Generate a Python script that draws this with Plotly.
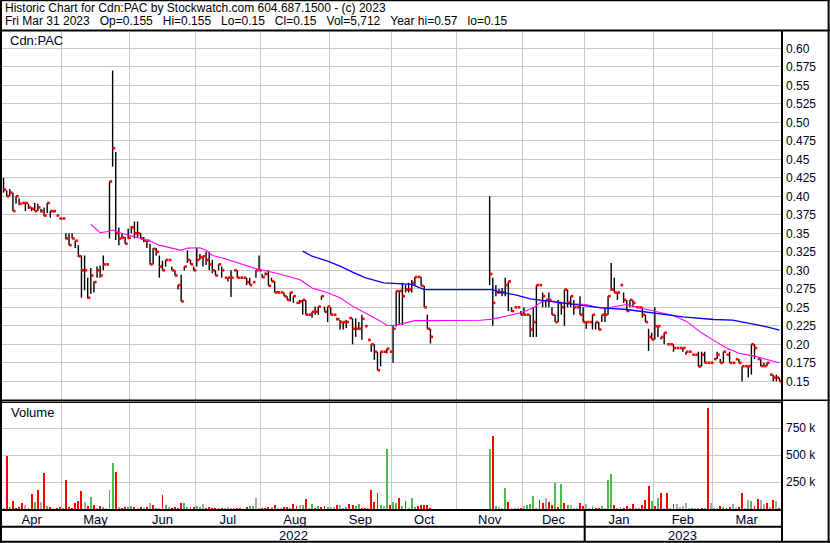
import plotly.graph_objects as go

# ---------------- data ----------------
month_labels = ["Apr", "May", "Jun", "Jul", "Aug", "Sep", "Oct", "Nov", "Dec", "Jan", "Feb", "Mar"]
month_days = [19, 22, 21, 21, 22, 20, 21, 21, 20, 22, 19, 22]   # trading days per month
year_labels = ["2022", "2023"]
year_start_month = [0, 9]

N = None
high = [
    .425, .408, .41, .405, .40, .397, .391, .391, .39, .385, .391, .39, .383, .385, .391, .38, .38, .374, .37,
    .37, .35, .35, .35, .34, .334, .32, .32, .29, .303, .285, .305, .306, .32, .308, .42, .57, .46, .358, .35, .345, .356,
    .36, .366, .366, .35, .345, .34, .336, .33, .33, .32, .313, .314, .314, .305, .30, .28, .294, .305, .327, .314, .305,
    .33, .322, .319, .325, .325, .314, .30, .308, .305, .29, .29, .30, .30, .30, .29, .29, .29, .29, .284, .30, .32,
    .295, .297, .30, .29, .285, .272, .27, .27, .265, .27, .265, .256, .26, .26, .26, .24, .244, .251, .251, .265, .251, .251,
    .25, .24, .236, .233, .23, .233, .236, .235, .235, .23, .24, .2245, .206, .20, .20, .19, .19, .19, .194, .19,
    .225, .272, .272, .283, .28, .283, .287, .291, .291, .291, .279, .24, .221, N, N, N, N, N, N, N, N,
    N, N, N, N, N, N, N, N, N, N, .40, .29, .28, .275, .276, .29, .285, .25, .25, .25, .245,
    .25, .24, .24, .25, .28, .28, .27, .26, .27, .25, .24, .26, .256, .274, .274, .265, .26, .25, .265, .25,
    .23, .23, .24, .23, .23, .24, .25, .265, .31, .29, .27, .28, .27, .26, .26, .26, .25, .25, .25, .24, .221, .2156,
    .25, .2246, .21, .2156, .20, .20, .20, .195, .195, .195, .19, .19, .186, .186, .19, .19, .19, .175, .175,
    .18, .19, .18, .19, .186, .19, .175, .18, .18, .1705, .1705, .1705, .20, .20, .18, .18, .175, .175, .159, .159, .159, .155,
]
low = [
    .405, .40, .40, .38, .39, .388, .391, .38, .383, .38, .38, .38, .378, .373, .377, .371, .378, .374, .369,
    .369, .342, .334, .343, .33, .318, .263, .273, .262, .268, .27, .29, .29, .30, .308, .343, .44, .341, .334, .343, .336, .342,
    .35, .343, .345, .343, .338, .33, .308, .308, .32, .29, .30, .305, .314, .30, .293, .274, .258, .30, .31, .308, .30,
    .305, .314, .305, .307, .30, .296, .293, .30, .29, .29, .285, .264, .30, .29, .29, .29, .28, .28, .284, .29, .30,
    .29, .293, .279, .285, .27, .27, .27, .265, .26, .258, .256, .256, .255, .24, .24, .24, .236, .24, .24, .26, .244, .23,
    .24, .24, .232, .22, .22, .222, .235, .20, .21, .22, .206, .2245, .206, .19, .179, .165, .17, .19, .188, .19,
    .175, .224, .226, .226, .27, .27, .27, .279, .291, .279, .25, .221, .201, N, N, N, N, N, N, N, N,
    N, N, N, N, N, N, N, N, N, N, .28, .225, .265, .268, .265, .265, .245, .244, .25, .25, .24,
    .24, .24, .21, .21, .21, .28, .25, .25, .25, .24, .23, .23, .24, .225, .25, .25, .24, .25, .24, .23,
    .221, .23, .22, .22, .22, .23, .23, .24, .272, .27, .26, .28, .256, .245, .25, .25, .25, .25, .236, .23, .191, .2065,
    .2065, .21, .2065, .20, .20, .20, .19, .195, .195, .19, .186, .19, .186, .186, .17, .17, .175, .175, .175,
    .18, .18, .175, .175, .186, .175, .175, .18, .175, .15, .1705, .155, .159, .18, .18, .1705, .1705, .1705, .159, .15, .15, .15,
]
close = [
    .409, .40, .405, .38, .40, .39, .391, .391, .385, .383, .38, .385, .38, .374, .391, .38, .38, .374, .37,
    .37, .343, .334, .343, .34, .319, .30, .30, .263, .293, .284, .30, .293, .308, .308, .42, .465, .35, .343, .344, .336, .344,
    .358, .35, .35, .343, .34, .34, .308, .329, .325, .305, .30, .314, .314, .30, .293, .28, .258, .305, .314, .308, .30,
    .314, .318, .319, .314, .308, .30, .293, .308, .30, .29, .29, .29, .30, .29, .29, .29, .284, .28, .284, .30, .30,
    .2907, .295, .279, .285, .27, .27, .27, .265, .26, .27, .265, .256, .258, .26, .24, .24, .244, .244, .251, .265, .244, .251,
    .24, .24, .234, .23, .23, .23, .2354, .221, .221, .221, .2345, .2245, .206, .20, .19, .165, .19, .19, .194, .19,
    .221, .272, .272, .265, .274, .274, .283, .291, .291, .279, .25, .221, .21, N, N, N, N, N, N, N, N,
    N, N, N, N, N, N, N, N, N, N, .295, .256, .27, .2705, .2705, .28, .285, .245, .25, .25, .24,
    .24, .24, .22, .23, .28, .28, .265, .26, .26, .24, .23, .256, .25, .274, .256, .265, .25, .25, .24, .23,
    .23, .23, .24, .23, .22, .24, .24, .265, .274, .27, .27, .28, .26, .245, .26, .256, .25, .25, .24, .23, .21, .2065,
    .2246, .2246, .21, .2156, .20, .20, .195, .195, .195, .195, .19, .19, .186, .186, .17, .186, .175, .175, .175,
    .18, .186, .175, .19, .186, .175, .175, .18, .175, .1705, .1705, .1705, .20, .195, .18, .1705, .1705, .175, .159, .155, .155, .15,
]

# daily volume, thousands of shares
volume_k = [
    8, 493, 15, 74, 9, 19, 53, 37, 12, 140, 62, 177, 62, 335, 28, 15, 9, 9, 15,
    6, 270, 15, 6, 59, 74, 167, 68, 28, 115, 37, 6, 28, 22, 5, 177, 428, 344, 15, 12, 19, 22,
    28, 19, 12, 19, 12, 19, 53, 37, 12, 5, 130, 37, 19, 12, 19, 12, 53, 53, 22, 19, 19,
    28, 19, 43, 12, 19, 12, 9, 5, 9, 5, 19, 12, 5, 9, 9, 5, 19, 28, 28, 99, 5,
    9, 9, 19, 19, 37, 5, 9, 19, 19, 12, 46, 31, 37, 37, 93, 9, 46, 12, 28, 19, 31, 19,
    19, 15, 37, 37, 9, 19, 46, 37, 28, 46, 9, 9, 5, 177, 65, 149, 37, 28, 558, 37,
    68, 59, 102, 28, 74, 5, 102, 19, 28, 37, 37, 37, 9, 0, 0, 0, 0, 0, 0, 0, 0,
    0, 0, 0, 0, 0, 0, 0, 0, 0, 0, 558, 679, 28, 19, 12, 198, 62, 9, 9, 6, 9,
    28, 37, 46, 121, 9, 84, 56, 102, 65, 37, 242, 19, 232, 56, 37, 37, 5, 5, 56, 28,
    46, 5, 28, 9, 9, 28, 9, 270, 325, 37, 9, 19, 9, 28, 9, 46, 9, 9, 37, 84, 214, 74,
    28, 102, 149, 9, 149, 9, 46, 46, 19, 28, 56, 9, 9, 9, 9, 9, 9, 939, 56,
    9, 9, 28, 19, 9, 19, 46, 9, 19, 149, 9, 84, 74, 28, 93, 84, 46, 56, 19, 84, 74, 6,
]
# day direction as coloured in the volume panel: d = down, u = up, n = unchanged
volume_dir = (
    "n d u d d d d n d d u d n d u d n d d "
    "n d d d d d d n d u d n d u n u u d n d d u "
    "u d n d n d n d u n d u n d d d d u u d d "
    "u u n d d d d n d n n n n d d n d u u n n "
    "d d d u d n n d d n d d n u d n u d u d d u "
    "n n d n u u d d u u d d n d d d u n u d "
    "u u d u d n u u d d d d d n n n n n n n n "
    "n n n n n n n n n n u d u n n u d n n n d "
    "n u u u n d d n d d u d u d u n n n d d "
    "n n u d d u n u u d n u d d n d n n d d d u "
    "d u d n d n d n n n n n u n n d n d n "
    "u n d u d d n n d d n n u d d n n d n d n d"
).split()

# moving averages (trading-day index, price)
ma_short_day = [28, 31, 33, 35, 37, 41, 44, 47, 50, 53, 57, 59, 63, 65, 67, 70, 74, 78, 82, 87, 91, 95, 99,
                104, 108, 112, 117, 121, 123, 125, 129, 132, 136, 147, 153, 157, 162, 166, 170, 173, 176,
                181, 187, 191, 194, 200, 204, 209, 215, 219, 224, 228, 232, 236, 241, 245, 249]
ma_short_val = [.362, .351, .352, .3545, .351, .347, .343, .3395, .334, .331, .327, .330, .3305, .327, .32,
                .317, .312, .307, .301, .2966, .292, .2876, .276, .2696, .2628, .2516, .2403, .2313, .2254,
                .2254, .229, .232, .232, .232, .2326, .234, .239, .2426, .2493, .2583, .2583, .2552, .2538,
                .2493, .2493, .2538, .2493, .245, .239, .2313, .2155, .205, .195, .188, .184, .1795, .175]
ma_long_day = [96, 99, 104, 108, 112, 116, 122, 126, 131, 135, 147, 157, 159, 164, 169, 175, 181, 187, 192,
               200, 208, 218, 228, 234, 241, 245, 249]
ma_long_val = [.326, .319, .3124, .3056, .2975, .29, .283, .282, .281, .274, .274, .274, .2705, .267, .2615,
               .2583, .2552, .2525, .2493, .247, .2426, .237, .2335, .2326, .2268, .2236, .219]

price_ticks = [0.15, 0.175, 0.20, 0.225, 0.25, 0.275, 0.30, 0.325, 0.35, 0.375, 0.40, 0.425, 0.45,
               0.475, 0.50, 0.525, 0.55, 0.575, 0.60]
price_tick_text = ["0.15", "0.175", "0.20", "0.225", "0.25", "0.275", "0.30", "0.325", "0.35", "0.375",
                   "0.40", "0.425", "0.45", "0.475", "0.50", "0.525", "0.55", "0.575", "0.60"]
volume_ticks = [250000, 500000, 750000]
volume_tick_text = ["250 k", "500 k", "750 k"]

GAP = "&nbsp;&nbsp;&nbsp;"
header_line1 = "Historic Chart for Cdn:PAC by Stockwatch.com 604.687.1500 - (c) 2023"
header_line2 = GAP.join(["Fri Mar 31 2023", "Op=0.155", "Hi=0.155", "Lo=0.15", "Cl=0.15",
                         "Vol=5,712", "Year hi=0.57", "lo=0.15"])

# ---------------- layout helpers ----------------
W, H = 830, 543
FONT = "Arial, Liberation Sans, sans-serif"
TXT = "#000022"
GRID = "#C8C8C8"


def fx(p):
    return p / W


def fy(p):
    return 1 - p / H


n = len(close)
days = list(range(n))

# month boundaries / centres in trading-day units
bounds, centres = [], []
start = 0
for d in month_days:
    centres.append(start + d / 2 - 0.5)
    start += d
    bounds.append(start - 0.5)
inner_bounds = bounds[:-1]

# high-low segments and close ticks
hl_x, hl_y, cl_x, cl_y = [], [], [], []
for i in days:
    if close[i] is None:
        continue
    hl_x += [i, i, None]
    hl_y += [low[i], high[i], None]
    cl_x += [i, i + 0.85, None]
    cl_y += [close[i], close[i], None]

col_map = {"d": "#FF0000", "u": "#4CBB4C", "n": "#A9A9A9"}
vol_colors = [col_map[c] for c in volume_dir]
volume = [v * 1000 for v in volume_k]

fig = go.Figure()
fig.add_trace(go.Scatter(x=hl_x, y=hl_y, mode="lines", line=dict(color="black", width=1.4),
                         hoverinfo="skip", xaxis="x", yaxis="y"))
fig.add_trace(go.Scatter(x=cl_x, y=cl_y, mode="lines", line=dict(color="#FF0000", width=2.6),
                         hoverinfo="skip", xaxis="x", yaxis="y"))
fig.add_trace(go.Scatter(x=ma_short_day, y=ma_short_val, mode="lines",
                         line=dict(color="#FF00FF", width=1.1), xaxis="x", yaxis="y"))
fig.add_trace(go.Scatter(x=ma_long_day, y=ma_long_val, mode="lines",
                         line=dict(color="#0000FF", width=1.3), xaxis="x", yaxis="y"))
fig.add_trace(go.Bar(x=days, y=volume, marker=dict(color=vol_colors, line=dict(width=0)),
                     width=0.62, xaxis="x2", yaxis="y2"))

PL, PR = 2, 781
xdom = [fx(PL), fx(PR)]
xr = [-0.5, n - 0.5]
minor_grid = dict(tickvals=inner_bounds, showgrid=True, gridcolor=GRID, gridwidth=1, ticks="")

fig.update_layout(
    width=W, height=H, margin=dict(l=0, r=0, t=0, b=0),
    paper_bgcolor="white", plot_bgcolor="white", showlegend=False,
    font=dict(family=FONT, color=TXT, size=12),
    bargap=0,
    xaxis=dict(domain=xdom, range=xr, anchor="y", showticklabels=False, showgrid=False,
               zeroline=False, showline=False, ticks="", minor=minor_grid, fixedrange=True),
    yaxis=dict(domain=[fy(400), fy(32)], range=[0.12473, 0.62203], anchor="x", side="right",
               tickvals=price_ticks, ticktext=price_tick_text, showgrid=True, gridcolor=GRID,
               zeroline=False, showline=False, ticks="", ticklabelstandoff=4,
               tickfont=dict(size=12, color=TXT, family=FONT)),
    xaxis2=dict(domain=xdom, range=xr, anchor="y2", tickvals=centres, ticktext=month_labels,
                showgrid=False, zeroline=False, showline=False, ticks="", ticklabelstandoff=1,
                tickfont=dict(size=13, color=TXT, family=FONT), minor=minor_grid),
    yaxis2=dict(domain=[fy(509), fy(403)], range=[0, 985000], anchor="x2", side="right",
                tickvals=volume_ticks, ticktext=volume_tick_text, showgrid=True, gridcolor=GRID,
                zeroline=False, showline=False, ticks="", ticklabelstandoff=4,
                tickfont=dict(size=12, color=TXT, family=FONT)),
)

# frame lines (pixel layout)
def hline(y, x0, x1, w):
    return dict(type="line", xref="paper", yref="paper", x0=fx(x0), x1=fx(x1), y0=fy(y), y1=fy(y),
                line=dict(color="black", width=w), layer="above")


def vline(x, y0, y1, w):
    return dict(type="line", xref="paper", yref="paper", x0=fx(x), x1=fx(x), y0=fy(y0), y1=fy(y1),
                line=dict(color="black", width=w), layer="above")


shapes = [
    hline(0.5, 0, 830, 1.5),
    hline(30.5, 0, 830, 2),
    hline(400.3, 0, 830, 1.4),
    hline(402.3, 0, 782, 1.4),
    hline(510, 0, 782, 2),
    hline(526.7, 0, 782, 2),
    hline(541.8, 0, 830, 2),
    vline(1, 0, 543, 2),
    vline(782, 30, 543, 2),
    vline(828.6, 0, 543, 2),
]
# year separator at the first trading day of January
jan_bound = bounds[year_start_month[1] - 1]
shapes.append(dict(type="line", xref="x2", yref="paper", x0=jan_bound, x1=jan_bound,
                   y0=fy(510), y1=fy(542), line=dict(color="black", width=2), layer="above"))
fig.update_layout(shapes=shapes)

ann = [
    dict(text=header_line1, x=fx(3), y=fy(8), xref="paper", yref="paper", xanchor="left",
         yanchor="middle", showarrow=False, font=dict(size=12, color="black", family=FONT)),
    dict(text=header_line2, x=fx(3), y=fy(21.5), xref="paper", yref="paper", xanchor="left",
         yanchor="middle", showarrow=False, font=dict(size=12, color="black", family=FONT)),
    dict(text="Cdn:PAC", x=fx(8), y=fy(40), xref="paper", yref="paper", xanchor="left",
         yanchor="middle", showarrow=False, font=dict(size=13, color=TXT, family=FONT)),
    dict(text="Volume", x=fx(9), y=fy(413), xref="paper", yref="paper", xanchor="left",
         yanchor="middle", showarrow=False, font=dict(size=13, color=TXT, family=FONT)),
]
ystarts = [sum(month_days[:m]) - 0.5 for m in year_start_month] + [n - 0.5]
for k, lab in enumerate(year_labels):
    ann.append(dict(text=lab, x=(ystarts[k] + ystarts[k + 1]) / 2, y=fy(535), xref="x2", yref="paper",
                    xanchor="center", yanchor="middle", showarrow=False,
                    font=dict(size=13, color=TXT, family=FONT)))
fig.update_layout(annotations=ann)

fig.write_html("out.html", config={"displayModeBar": False, "staticPlot": True},
               post_script="document.body.style.margin='0';document.body.style.overflow='hidden';")
